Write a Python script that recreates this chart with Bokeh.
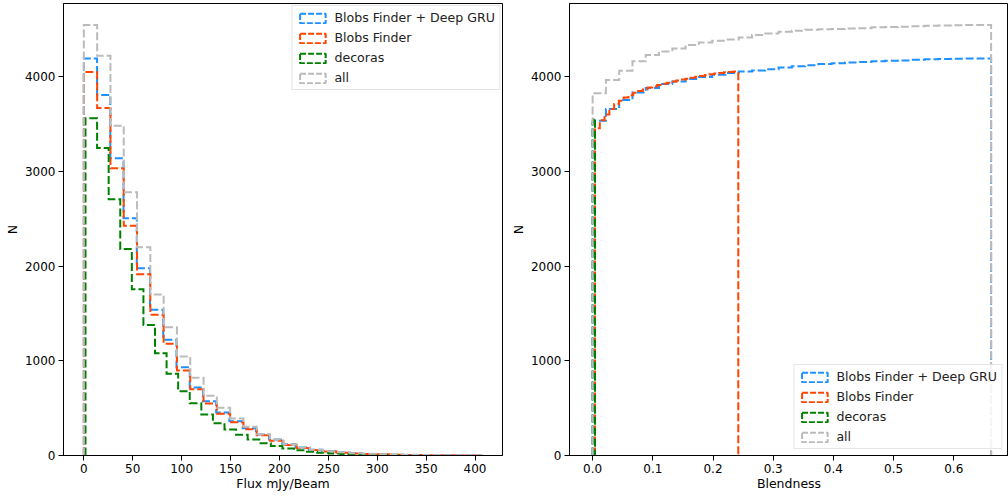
import numpy as np
from bokeh.plotting import figure
from bokeh.layouts import row
from bokeh.models import FixedTicker, PrintfTickFormatter, Legend, LegendItem, Range1d
from bokeh.embed import file_html
from bokeh.resources import INLINE

labels = ["Blobs Finder + Deep GRU", "Blobs Finder", "decoras", "all"]
colors = ["#1E90FF", "#FF4500", "#008000", "#BBBBBB"]

# ---- Left panel: reverse-cumulative histograms of flux (30 bins each)
flux_lo = [0.0, 0.0, 1.7, 0.0]
flux_hi = [406.0, 408.0, 357.0, 408.0]
flux_blue = [4193, 3807, 3138, 2505, 1977, 1538, 1221, 932, 718, 573, 454, 362, 288, 222, 169,
             119, 85, 60, 44, 32, 23, 17, 12, 9, 6, 4, 3, 2, 1, 1]
flux_orange = [4049, 3670, 3032, 2427, 1914, 1485, 1179, 897, 700, 549, 440, 351, 278, 214, 155,
               110, 80, 58, 42, 30, 22, 16, 12, 8, 6, 4, 3, 2, 1, 1]
flux_green = [3560, 3247, 2705, 2181, 1755, 1379, 1080, 862, 679, 552, 433, 341, 274, 220, 169,
              130, 100, 75, 55, 40, 28, 20, 14, 10, 7, 5, 3, 2, 1, 1]
flux_gray = [4546, 4222, 3483, 2779, 2198, 1699, 1354, 1045, 820, 630, 503, 390, 303, 225, 169,
             119, 85, 62, 45, 33, 24, 18, 13, 10, 7, 5, 4, 3, 2, 1]
flux_counts = [flux_blue, flux_orange, flux_green, flux_gray]

# ---- Right panel: cumulative histograms of blendness (30 bins each)
blend_lo = [0.0, 0.004, 0.0, 0.0]
blend_hi = [0.662, 0.242, 0.004, 0.662]
blend_blue = [3535, 3659, 3754, 3834, 3881, 3923, 3950, 3975, 3998, 4020, 4040, 4055, 4065, 4080, 4098,
              4110, 4120, 4134, 4141, 4151, 4155, 4162, 4169, 4172, 4179, 4183, 4187, 4190, 4192, 4193]
blend_orange = [3455, 3540, 3600, 3660, 3712, 3745, 3780, 3805, 3830, 3850, 3865, 3885, 3897, 3912, 3925,
                3935, 3950, 3960, 3970, 3978, 3990, 4000, 4008, 4018, 4026, 4033, 4040, 4046, 4050, 4055]
blend_green = [3500, 3505, 3510, 3515, 3518, 3520, 3522, 3525, 3527, 3530, 3532, 3535, 3537, 3540, 3541,
               3543, 3545, 3547, 3548, 3550, 3551, 3552, 3554, 3555, 3556, 3557, 3558, 3559, 3560, 3560]
blend_gray = [3824, 3965, 4063, 4162, 4229, 4267, 4299, 4335, 4362, 4380, 4392, 4415, 4440, 4457, 4475,
              4485, 4496, 4500, 4505, 4508, 4512, 4521, 4524, 4528, 4532, 4538, 4540, 4543, 4545, 4546]
blend_counts = [blend_blue, blend_orange, blend_green, blend_gray]

flux_ticks = [0, 50, 100, 150, 200, 250, 300, 350, 400]
blend_ticks = [0.0, 0.1, 0.2, 0.3, 0.4, 0.5, 0.6]
n_ticks = [0, 1000, 2000, 3000, 4000]

FONT = "DejaVu Sans"
DASH = "8 3"
LEG_DASH = "6 2"
LW = 2


def outline(lo, hi, vals):
    edges = np.linspace(lo, hi, len(vals) + 1)
    xs = np.repeat(edges, 2)
    ys = np.concatenate([[0], np.repeat(np.asarray(vals, float), 2), [0]])
    return xs, ys


def make_fig(width, left_border, right_border, xr, xticks, xlabel, fmt):
    p = figure(width=width, height=496, output_backend="svg", toolbar_location=None,
               x_range=Range1d(*xr), y_range=Range1d(0, 4773),
               min_border_left=left_border, min_border_right=right_border,
               min_border_top=3, min_border_bottom=41)
    p.xgrid.visible = False
    p.ygrid.visible = False
    p.outline_line_color = "black"
    p.outline_line_width = 1
    p.xaxis.ticker = FixedTicker(ticks=xticks)
    p.yaxis.ticker = FixedTicker(ticks=n_ticks)
    if fmt:
        p.xaxis.formatter = PrintfTickFormatter(format=fmt)
    for ax in (p.xaxis[0], p.yaxis[0]):
        ax.major_label_text_font = FONT
        ax.major_label_text_font_size = "12px"
        ax.major_label_text_color = "black"
        ax.axis_label_text_font = FONT
        ax.axis_label_text_font_size = "12.5px"
        ax.axis_label_text_font_style = "normal"
        ax.axis_label_text_color = "black"
        ax.minor_tick_line_color = None
        ax.major_tick_out = 5
        ax.major_tick_in = 0
        ax.axis_line_color = "black"
        ax.major_tick_line_color = "black"
    p.xaxis.axis_label = xlabel
    p.yaxis.axis_label = "N"
    p.xaxis.major_label_standoff = 3
    p.yaxis.major_label_standoff = 3
    p.xaxis.axis_label_standoff = 0
    p.yaxis.axis_label_standoff = 2
    return p


def add_series(p, los, his, counts, loc):
    items = []
    for lo, hi, vals, c, lab in zip(los, his, counts, colors, labels):
        xs, ys = outline(lo, hi, vals)
        p.line(xs, ys, line_color=c, line_width=LW, line_dash=DASH, line_join="miter")
        # legend proxy placed far outside the visible range
        proxy = p.quad(left=[-1e6], right=[-1e6 + 1], top=[-1e6 + 1], bottom=[-1e6],
                       fill_alpha=0, line_color=c, line_width=LW, line_dash=LEG_DASH)
        items.append(LegendItem(label=lab, renderers=[proxy]))
    leg = Legend(items=items, location=loc)
    leg.label_text_font = FONT
    leg.label_text_font_size = "12.6px"
    leg.label_text_color = "#222222"
    leg.glyph_width = 32
    leg.glyph_height = 12
    leg.label_height = 13
    leg.spacing = 5
    leg.padding = 4
    leg.label_standoff = 6
    leg.border_line_color = "#cccccc"
    leg.border_line_width = 1
    leg.background_fill_alpha = 0.85
    p.add_layout(leg, "center")
    return leg


p1 = make_fig(506, 63, 4, (-20.8, 428.1), flux_ticks, "Flux mJy/Beam", None)
l1 = add_series(p1, flux_lo, flux_hi, flux_counts, "top_right")
l1.margin = 2

p2 = make_fig(502, 63, 0, (-0.0384, 0.6909), blend_ticks, "Blendness", "%.1f")
l2 = add_series(p2, blend_lo, blend_hi, blend_counts, "bottom_right")
l2.margin = 6

layout = row(p1, p2)
open("out.html", "w").write(file_html(layout, INLINE))
